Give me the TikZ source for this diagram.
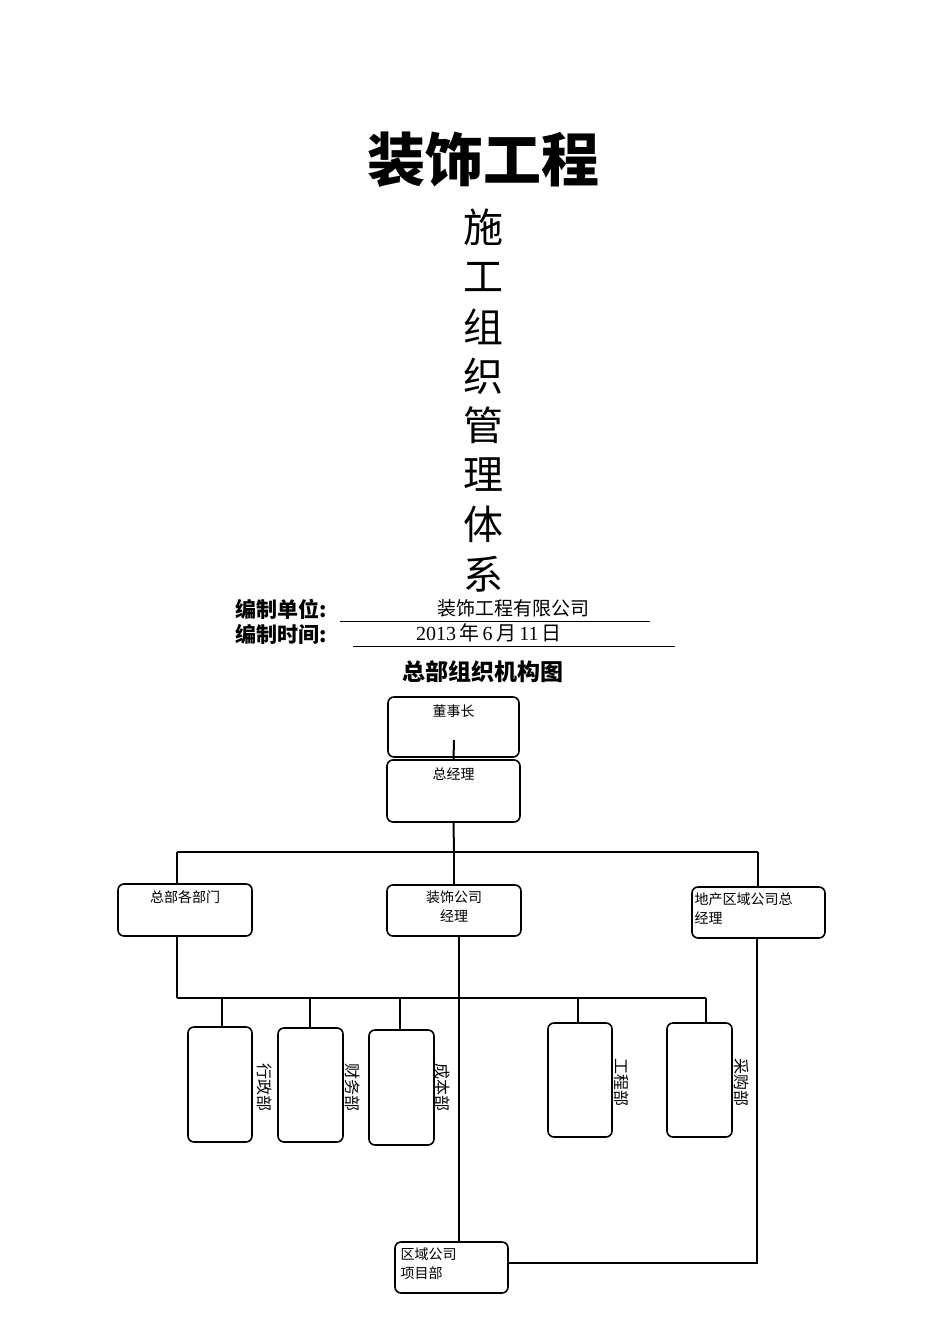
\documentclass[tikz,border=0pt]{standalone}
\usepackage{fontspec}
\setmainfont{Liberation Serif}
\newfontfamily\cjk{Noto Sans CJK SC}
\begin{document}
\begin{tikzpicture}[x=1pt,y=-1pt,
  box/.style={draw,line width=1.6pt,rounded corners=6pt,inner sep=0pt},
  ln/.style={line width=2pt},
  lbl/.style={font=\cjk\fontsize{14}{16}\selectfont,anchor=north},
  vlbl/.style={font=\cjk\fontsize{16}{17}\selectfont,rotate=-90}]
\useasboundingbox (0,0) rectangle (950,1344);
\node (t) at (483,160) {\cjk\bfseries\fontsize{58}{60}\selectfont 装饰工程};
\foreach \c [count=\i] in {施,工,组,织,管,理,体,系}
  \node (v\i) at (483,{178+49.5*\i}) {\cjk\fontsize{40}{42}\selectfont \c};
\node[anchor=west] (l1) at (232,609) {\cjk\bfseries\fontsize{21}{22}\selectfont 编制单位:};
\node[anchor=west] (l2) at (232,634) {\cjk\bfseries\fontsize{21}{22}\selectfont 编制时间:};
\coordinate (u1a) at (340,621); \coordinate (u1b) at (650,621);
\coordinate (u2a) at (353,646); \coordinate (u2b) at (675,646);
\draw (u1a) -- (u1b); \draw (u2a) -- (u2b);
\node (c1) at (513,608) {\cjk\fontsize{19}{20}\selectfont 装饰工程有限公司};
\node (c2) at (489,633) {\fontsize{20}{20}\selectfont 2013\,{\cjk 年}\,6\,{\cjk 月}\,11\,{\cjk 日}};
\node (ch) at (483,672) {\cjk\bfseries\fontsize{23}{24}\selectfont 总部组织机构图};
% boxes
\node[box,minimum width=131pt,minimum height=60pt] (dsz) at (453.5,727) {};
\node[lbl] at (453.5,701) {董事长};
\node[box,minimum width=133pt,minimum height=62pt] (zjl) at (453.5,791) {};
\node[lbl] at (453.5,764) {总经理};
\node[box,minimum width=134pt,minimum height=52pt] (zb) at (185,910) {};
\node[lbl] at (185,887) {总部各部门};
\node[box,minimum width=134pt,minimum height=51pt] (zs) at (454,910.5) {};
\node[lbl,align=center,font=\cjk\fontsize{14}{19}\selectfont] at (454,887) {装饰公司\\经理};
\node[box,minimum width=133pt,minimum height=51pt] (dc) at (758.5,912.5) {};
\node[lbl,anchor=north west,align=left,font=\cjk\fontsize{14}{19}\selectfont] at (691,889) {地产区域公司总\\经理};
\node[box,minimum width=113pt,minimum height=51pt] (qy) at (451.5,1267.5) {};
\node[lbl,anchor=north west,align=left,font=\cjk\fontsize{14}{19}\selectfont] at (397,1244) {区域公司\\项目部};
\node[box,minimum width=64pt,minimum height=115pt] (b1) at (220,1084.5) {};
\node[box,minimum width=65pt,minimum height=114pt] (b2) at (310.5,1085) {};
\node[box,minimum width=65pt,minimum height=115pt] (b3) at (401.5,1087.5) {};
\node[box,minimum width=64pt,minimum height=114pt] (b4) at (580,1080) {};
\node[box,minimum width=65pt,minimum height=114pt] (b5) at (699.5,1080) {};
\node[vlbl] at (265,1087) {行政部};
\node[vlbl] at (353,1087) {财务部};
\node[vlbl] at (443,1087) {成本部};
\node[vlbl] at (622,1082) {工程部};
\node[vlbl] at (742,1082) {采购部};
% connectors
\coordinate (d0) at (454,740);
\draw[ln] (d0) -- (zjl.north);
\coordinate (h1) at (177,852); \coordinate (h2) at (758,852); \coordinate (hm) at (454,852);
\draw[ln] (zjl.south) -- (hm);
\draw[ln] (h1) -- (h2);
\draw[ln] (h1) -- (h1 |- zb.north);
\draw[ln] (h2) -- (h2 |- dc.north);
\draw[ln] (hm) -- (zs.north);
\coordinate (g1) at (177,998); \coordinate (g2) at (706,998);
\draw[ln] (g1 |- zb.south) -- (g1);
\draw[ln] (g1) -- (g2);
\foreach \x/\b in {222/b1,310/b2,400/b3,578/b4,706/b5}{
  \coordinate (top\b) at (\x,998);
  \draw[ln] (top\b) -- (top\b |- \b.north);}
\coordinate (s1) at (459,936);
\draw[ln] (s1) -- (s1 |- qy.north);
\coordinate (r0) at (757,938);
\coordinate (r1) at (757,1263);
\draw[ln] (r0) -- (r1) -- (r1 -| qy.east);
\end{tikzpicture}
\end{document}
